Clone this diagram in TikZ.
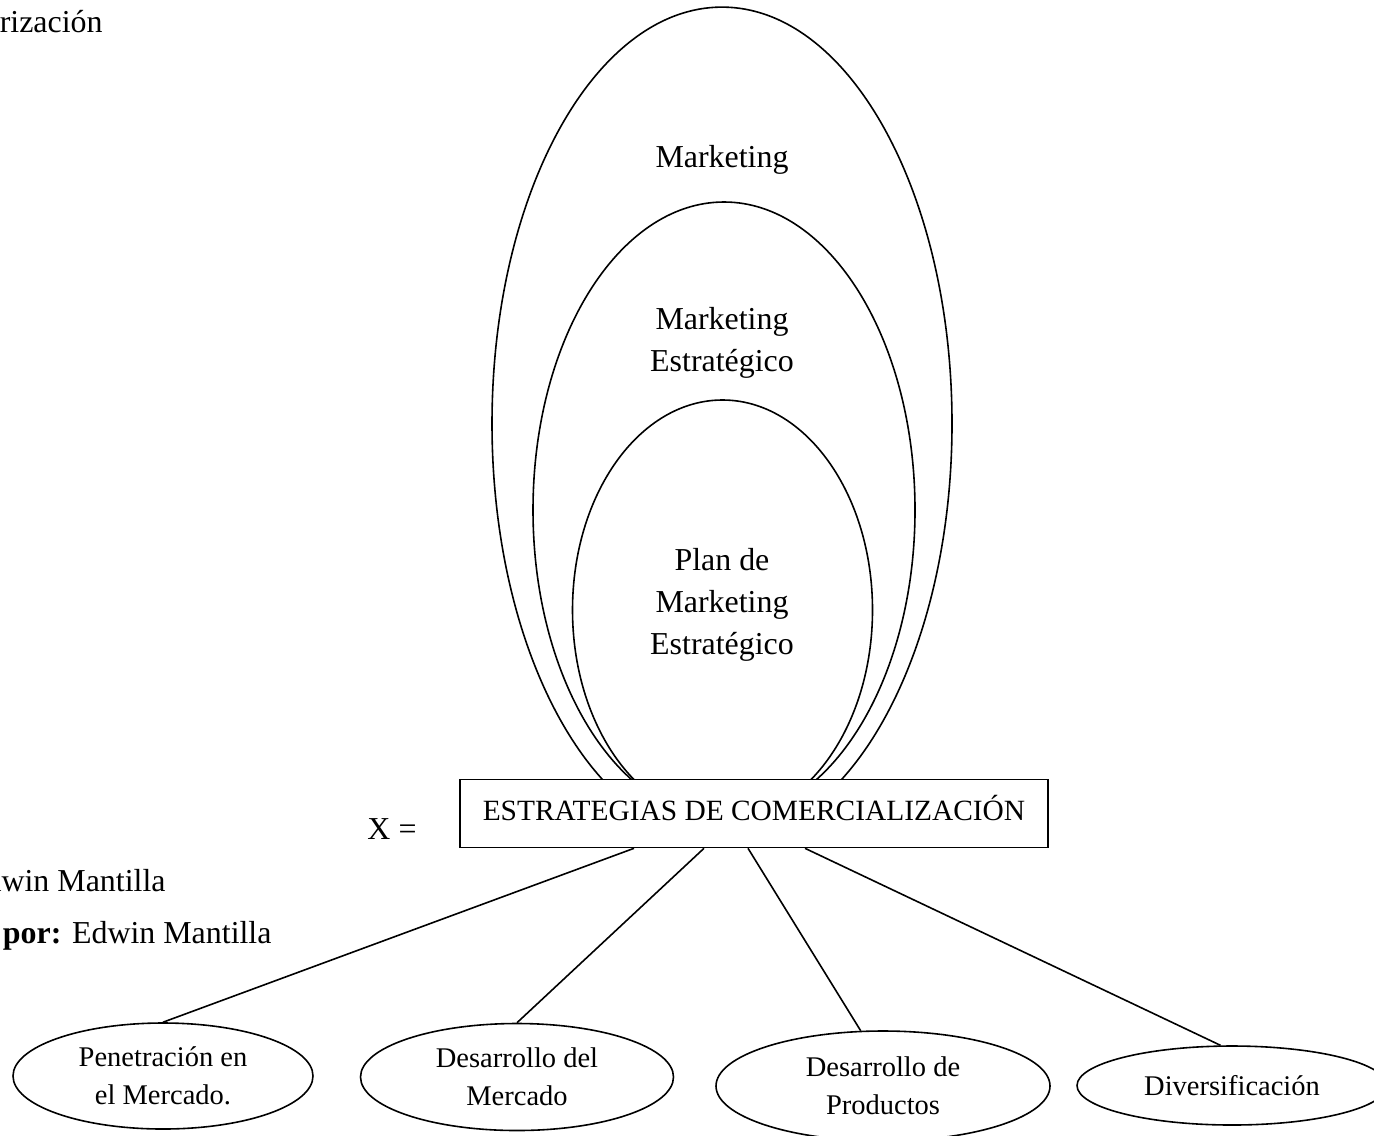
\documentclass[tikz,border=0pt]{standalone}
\usepackage{fontspec}
\setmainfont{Liberation Serif}
\usetikzlibrary{shapes.geometric,calc}
\def\pxu{0.4386pt}
\begin{document}
\begin{tikzpicture}[x=0.4386pt,y=-0.4386pt,
  bigell/.style={draw, ellipse, line width=0.7pt, inner sep=0pt},
  lbl/.style={font=\fontsize{14}{18.4}\selectfont, align=center, inner sep=0pt},
  side/.style={font=\fontsize{14}{18}\selectfont, inner sep=0pt, anchor=base east},
  leaf/.style={draw, ellipse, line width=0.7pt, inner sep=0pt, align=center, font=\fontsize{12.5}{16.7}\selectfont},
  conn/.style={draw, line width=0.7pt}]
\useasboundingbox (0,0) rectangle (1374,1135);
% nested ellipses
\node[bigell, minimum width=460*\pxu, minimum height=833*\pxu] (outer) at (722,423.6) {};
\node[bigell, minimum width=382*\pxu, minimum height=616*\pxu] (middle) at (724,510) {};
\node[bigell, minimum width=300*\pxu, minimum height=420*\pxu] (inner) at (722.5,610) {};
\node[lbl] (t1) at (722,160) {Marketing};
\node[lbl] (t2) at (722,343) {Marketing\\Estratégico};
\node[lbl] (t3) at (722,605) {Plan de\\Marketing\\Estratégico};
% box
\node[draw, fill=white, line width=0.7pt, minimum width=588*\pxu, minimum height=68*\pxu, inner sep=0pt,
  text height=9pt, text depth=3.3pt,
  font=\fontsize{12.9}{14}\selectfont] (box) at (754,813.5) {ESTRATEGIAS DE COMERCIALIZACIÓN};
\node[font=\fontsize{14}{16}\selectfont, inner sep=0pt] (x) at (392,829) {X =};
% side texts (clipped at the left margin)
\node[side] (s1) at (103,32) {Categorización};
\node[side] (s2) at (166,891) {Elaborado por: Edwin Mantilla};
\node[side] (s3) at (272,943) {\textbf{Elaborado por:} Edwin Mantilla};
% leaves
\node[leaf, minimum width=300*\pxu, minimum height=106*\pxu] (e1) at (163,1076) {Penetración en\\el Mercado.};
\node[leaf, minimum width=313*\pxu, minimum height=107*\pxu] (e2) at (517,1077) {Desarrollo del\\Mercado};
\node[leaf, minimum width=334*\pxu, minimum height=110*\pxu] (e3) at (883,1086) {Desarrollo de\\Productos};
\node[leaf, minimum width=310*\pxu, minimum height=79*\pxu] (e4) at (1232,1085.5) {Diversificación};
% connectors
\coordinate (b1) at ($(box.south)+(-120,0)$);
\coordinate (b2) at ($(box.south)+(-50,0)$);
\coordinate (b3) at ($(box.south)+(-6,0)$);
\coordinate (b4) at ($(box.south)+(51,0)$);
\draw[conn] (b1) -- (e1.north);
\draw[conn] (b2) -- (e2.north);
\draw[conn] (b3) -- (e3.112);
\draw[conn] (b4) -- (e4.106);
\end{tikzpicture}
\end{document}
